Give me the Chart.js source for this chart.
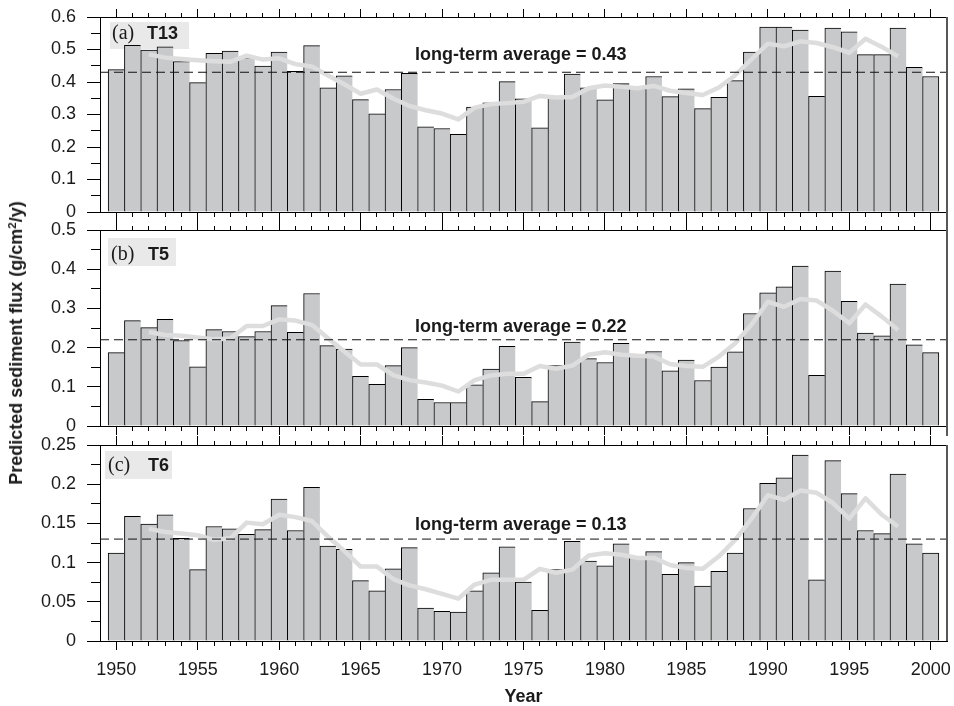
<!DOCTYPE html>
<html>
<head>
<meta charset="utf-8">
<script src="https://cdn.jsdelivr.net/npm/chart.js@4/dist/chart.umd.min.js"></script>
<style>
  html, body { margin: 0; padding: 0; background: #fff; }
  #fig { position: relative; width: 954px; height: 706px; overflow: hidden; }
  #fig canvas { position: absolute; left: 0; top: 0; }
  #ytitle {
    position: absolute; left: 16px; top: 343px;
    transform: translate(-50%, -50%) rotate(-90deg);
    font: bold 18px 'Liberation Sans', Arial, sans-serif;
    color: #1a1a1a; white-space: nowrap; line-height: 1;
  }
  #ytitle sup { font-size: 11.5px; line-height: 0; vertical-align: 0.5em; }
</style>
</head>
<body>
<div id="fig">
  <canvas id="panelA" width="954" height="706"></canvas>
  <canvas id="panelB" width="954" height="706"></canvas>
  <canvas id="panelC" width="954" height="706"></canvas>
  <div id="ytitle">Predicted sediment flux (g/cm<sup>2</sup>/y)</div>
</div>
<script>
// Years of record
const years = [1950,1951,1952,1953,1954,1955,1956,1957,1958,1959,
               1960,1961,1962,1963,1964,1965,1966,1967,1968,1969,
               1970,1971,1972,1973,1974,1975,1976,1977,1978,1979,
               1980,1981,1982,1983,1984,1985,1986,1987,1988,1989,
               1990,1991,1992,1993,1994,1995,1996,1997,1998,1999,2000];
// 5-year running mean is defined from 1952 to 1998
const smoothYears = years.slice(2, 49);

// Annual predicted sediment flux (g/cm2/y)
const fluxT13 = [0.438,0.513,0.498,0.508,0.463,0.398,0.488,0.495,0.475,0.449,
                 0.492,0.433,0.512,0.382,0.419,0.346,0.302,0.377,0.427,0.262,
                 0.257,0.239,0.323,0.336,0.401,0.348,0.259,0.350,0.424,0.382,
                 0.345,0.395,0.380,0.417,0.355,0.379,0.318,0.353,0.404,0.492,
                 0.569,0.569,0.560,0.356,0.566,0.554,0.484,0.484,0.566,0.445,0.417];
const fluxT5  = [0.187,0.269,0.251,0.272,0.218,0.151,0.246,0.241,0.228,0.241,
                 0.307,0.239,0.338,0.205,0.196,0.127,0.106,0.154,0.200,0.068,
                 0.060,0.060,0.105,0.145,0.203,0.124,0.062,0.154,0.214,0.172,
                 0.162,0.211,0.181,0.190,0.141,0.168,0.116,0.150,0.189,0.287,
                 0.340,0.355,0.408,0.129,0.395,0.318,0.237,0.230,0.362,0.207,0.187];
const fluxT6  = [0.112,0.159,0.149,0.161,0.131,0.091,0.146,0.143,0.136,0.142,
                 0.181,0.141,0.196,0.121,0.117,0.077,0.064,0.092,0.119,0.042,
                 0.038,0.037,0.064,0.087,0.120,0.075,0.039,0.091,0.127,0.102,
                 0.096,0.124,0.108,0.114,0.085,0.100,0.070,0.089,0.112,0.169,
                 0.201,0.208,0.237,0.078,0.230,0.188,0.141,0.137,0.213,0.124,0.112];

// Running means, 1952-1998
const smoothT13 = [0.485,0.475,0.471,0.467,0.464,0.462,0.481,0.469,0.473,0.455,
                   0.448,0.420,0.393,0.364,0.377,0.349,0.326,0.313,0.303,0.285,
                   0.321,0.332,0.335,0.339,0.357,0.352,0.354,0.381,0.389,0.385,
                   0.381,0.388,0.373,0.366,0.360,0.383,0.421,0.470,0.518,0.510,
                   0.525,0.520,0.507,0.490,0.533,0.508,0.479];
const smoothT5  = [0.240,0.232,0.230,0.226,0.221,0.223,0.255,0.255,0.272,0.269,
                   0.258,0.224,0.190,0.157,0.157,0.130,0.117,0.111,0.103,0.088,
                   0.117,0.129,0.133,0.133,0.153,0.146,0.154,0.182,0.188,0.182,
                   0.179,0.177,0.158,0.153,0.151,0.177,0.211,0.259,0.317,0.304,
                   0.324,0.320,0.294,0.262,0.310,0.279,0.245];
const smoothT6  = [0.143,0.139,0.137,0.135,0.129,0.131,0.151,0.149,0.161,0.158,
                   0.153,0.133,0.115,0.095,0.095,0.079,0.071,0.066,0.060,0.054,
                   0.072,0.078,0.078,0.078,0.092,0.087,0.091,0.109,0.112,0.110,
                   0.106,0.106,0.097,0.093,0.092,0.108,0.129,0.156,0.186,0.180,
                   0.192,0.189,0.176,0.156,0.182,0.161,0.146];

// Long-term averages
const avgT13 = 0.43, avgT5 = 0.22, avgT6 = 0.13;

// Panel tags and site names
const panelTags  = ['(a)', '(b)', '(c)'];
const panelSites = ['T13', 'T5', 'T6'];

// Y axis ranges and tick steps
const yMax  = [0.6, 0.5, 0.25];
const yStep = [0.1, 0.1, 0.05];

const SANS = "'Liberation Sans', Arial, Helvetica, sans-serif";
const SERIF = "'Liberation Serif', 'Times New Roman', serif";
Chart.defaults.font.family = SANS;
Chart.defaults.font.size = 18;
Chart.defaults.color = '#1a1a1a';

const alignPx = p => Math.round(p - 0.5) + 0.5;

// Panel decorations: tag box, minor ticks, right frame, average label
const panelDecor = {
  id: 'panelDecor',
  beforeDatasetsDraw(chart, args, o) {
    const { ctx, chartArea: a } = chart;
    ctx.save();
    ctx.fillStyle = '#e9e9e9';
    ctx.fillRect(a.left + o.box[0], a.top + o.box[1], o.box[2], o.box[3]);
    ctx.restore();
  },
  afterDatasetsDraw(chart, args, o) {
    const { ctx, chartArea: a, scales } = chart;
    const xs = scales.x, ys = scales.y;
    ctx.save();
    ctx.strokeStyle = '#000';
    ctx.lineWidth = 1;
    ctx.beginPath();
    years.forEach(yr => {
      if (yr % 5 === 0) return;
      const px = alignPx(xs.getPixelForValue(yr));
      ctx.moveTo(px, a.top); ctx.lineTo(px, a.top - 4);
      ctx.moveTo(px, a.bottom); ctx.lineTo(px, a.bottom + 5);
    });
    const t = ys.ticks.map(k => k.value);
    for (let i = 1; i < t.length; i++) {
      const py = alignPx(ys.getPixelForValue((t[i] + t[i - 1]) / 2));
      ctx.moveTo(a.left, py); ctx.lineTo(a.left - 9, py);
    }
    ctx.stroke();

    // right frame
    ctx.strokeStyle = '#585858';
    ctx.lineWidth = 2;
    ctx.beginPath();
    ctx.moveTo(a.right, a.top - o.frameTop);
    ctx.lineTo(a.right, a.bottom + o.frameBottom);
    ctx.stroke();

    // tag and site name
    ctx.fillStyle = '#1a1a1a';
    ctx.textBaseline = 'alphabetic';
    ctx.textAlign = 'left';
    ctx.font = '20px ' + SERIF;
    ctx.fillText(o.tag, a.left + o.tagX, a.top + o.textY);
    ctx.font = 'bold 18px ' + SANS;
    ctx.fillText(o.site, a.left + o.siteX, a.top + o.textY);

    // long-term average label
    ctx.fillText('long-term average = ' + o.avg.toFixed(2), 415, ys.getPixelForValue(o.avg) - o.avgGap);
    ctx.restore();
  }
};

function makePanel(id, p) {
  const tickFmt = v => String(+v.toFixed(3));
  return new Chart(document.getElementById(id), {
    type: 'bar',
    data: {
      datasets: [
        {
          type: 'line',
          data: [{ x: 1949, y: p.avg }, { x: 2001, y: p.avg }],
          borderColor: '#111', borderWidth: 1, borderDash: [9, 5],
          pointRadius: 0, order: 0
        },
        {
          type: 'line',
          data: smoothYears.map((yr, i) => ({ x: yr, y: p.smooth[i] })),
          borderColor: '#dddddd', borderWidth: 4.5, pointRadius: 0,
          tension: 0, borderJoinStyle: 'round', order: 1
        },
        {
          type: 'bar',
          data: years.map((yr, i) => ({ x: yr, y: p.flux[i] })),
          backgroundColor: '#c8c9cb', borderColor: '#000',
          borderWidth: c => ({ top: 1, left: 1, bottom: 0,
                               right: c.dataIndex === years.length - 1 ? 1 : 0 }),
          borderSkipped: 'start',
          barPercentage: 1, categoryPercentage: 1, order: 2
        }
      ]
    },
    options: {
      responsive: false,
      animation: false,
      events: [],
      layout: { padding: { top: p.padTop, bottom: p.padBottom, left: 0, right: 0 } },
      plugins: {
        legend: { display: false },
        tooltip: { enabled: false },
        panelDecor: p.decor
      },
      scales: {
        x: {
          type: 'linear', position: 'bottom', min: 1949, max: 2001,
          offset: false,
          grid: { offset: false, drawOnChartArea: false, tickLength: 9, color: '#000', lineWidth: 1 },
          border: { color: '#000', width: 1 },
          ticks: { stepSize: 5, includeBounds: false, display: p.showYears,
                   padding: 9, maxRotation: 0, autoSkip: false, color: '#1a1a1a',
                   font: { size: 18 }, callback: v => String(v) },
          title: { display: p.showYears, text: 'Year', color: '#1a1a1a',
                   font: { size: 18, weight: 'bold', lineHeight: 1 },
                   padding: { top: 0, bottom: 0 } },
          afterFit: s => { s.height = p.bottomH; s.paddingLeft = 0; s.paddingRight = 0; }
        },
        xTop: {
          type: 'linear', position: 'top', min: 1949, max: 2001,
          offset: false,
          grid: { offset: false, drawOnChartArea: false, tickLength: p.topTick, color: '#000', lineWidth: 1 },
          border: { color: '#000', width: 1 },
          ticks: { stepSize: 5, includeBounds: false, display: false },
          afterFit: s => { s.height = 9; s.paddingLeft = 0; s.paddingRight = 0; }
        },
        y: {
          type: 'linear', position: 'left', min: 0, max: p.max,
          grid: { drawOnChartArea: false, tickLength: 13, color: '#000', lineWidth: 1 },
          border: { color: '#000', width: 1 },
          ticks: { stepSize: p.step, includeBounds: false, padding: 11, color: '#1a1a1a',
                   font: { size: 18 }, callback: tickFmt },
          afterFit: s => { s.width = 100; s.paddingTop = 0; s.paddingBottom = 0; }
        },
        yR: {
          type: 'linear', position: 'right', min: 0, max: 1,
          grid: { display: false }, border: { display: false },
          ticks: { display: false },
          afterFit: s => { s.width = 7; s.paddingTop = 0; s.paddingBottom = 0; }
        }
      }
    },
    plugins: [panelDecor]
  });
}

makePanel('panelA', {
  flux: fluxT13, smooth: smoothT13, avg: avgT13, max: yMax[0], step: yStep[0],
  padTop: 8, padBottom: 485, bottomH: 9, topTick: 8, showYears: false,
  decor: { tag: panelTags[0], site: panelSites[0], avg: avgT13,
           box: [10, 5, 79, 27], tagX: 12, siteX: 47, textY: 22, avgGap: 12,
           frameTop: 0, frameBottom: 9 }
});
makePanel('panelB', {
  flux: fluxT5, smooth: smoothT5, avg: avgT5, max: yMax[1], step: yStep[1],
  padTop: 221, padBottom: 271, bottomH: 9, topTick: 9, showYears: false,
  decor: { tag: panelTags[1], site: panelSites[1], avg: avgT5,
           box: [8, 8, 68, 28], tagX: 11, siteX: 48, textY: 30, avgGap: 8,
           frameTop: 9, frameBottom: 10 }
});
makePanel('panelC', {
  flux: fluxT6, smooth: smoothT6, avg: avgT6, max: yMax[2], step: yStep[2],
  padTop: 436, padBottom: 0, bottomH: 65, topTick: 9, showYears: true,
  decor: { tag: panelTags[2], site: panelSites[2], avg: avgT6,
           box: [5, 6, 67, 28], tagX: 8, siteX: 48, textY: 26, avgGap: 9,
           frameTop: 0, frameBottom: 0 }
});
</script>
</body>
</html>
